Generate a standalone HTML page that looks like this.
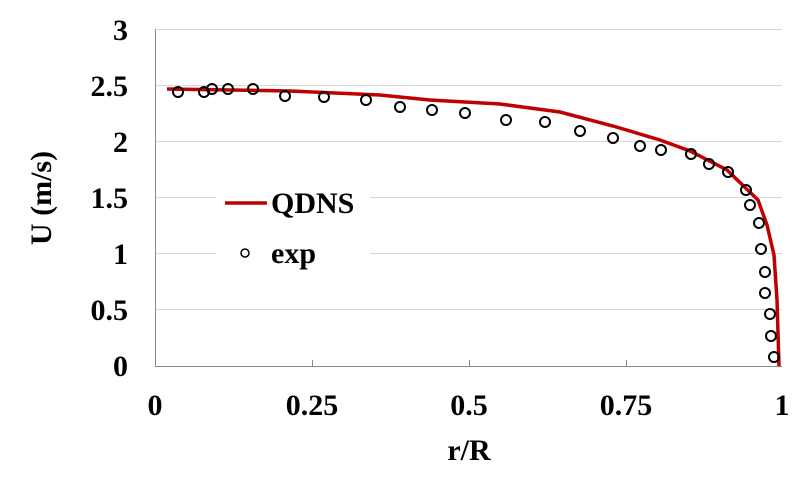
<!DOCTYPE html>
<html><head><style>body{margin:0;background:#fff}svg text{font-family:"Liberation Serif",serif;font-weight:bold;fill:#000}</style></head>
<body>
<svg width="805" height="476" xmlns="http://www.w3.org/2000/svg">
<g stroke="#d9d9d9" stroke-width="1">
<line x1="155" y1="29.5" x2="782" y2="29.5"/><line x1="155" y1="85.5" x2="782" y2="85.5"/><line x1="155" y1="141.5" x2="782" y2="141.5"/><line x1="155" y1="197.5" x2="782" y2="197.5"/><line x1="155" y1="253.5" x2="782" y2="253.5"/><line x1="155" y1="309.5" x2="782" y2="309.5"/>
</g>
<g stroke="#888" stroke-width="1">
<line x1="155.5" y1="29" x2="155.5" y2="366"/><line x1="155" y1="366.5" x2="782" y2="366.5"/>
<line x1="312.5" y1="360" x2="312.5" y2="366"/><line x1="469.5" y1="360" x2="469.5" y2="366"/><line x1="626.5" y1="360" x2="626.5" y2="366"/>
</g>
<rect x="216" y="185" width="154" height="90" fill="#fff"/>
<polyline fill="none" stroke="#c00000" stroke-width="3.5" points="167,89 290,91 380,95 430,100 500,104 560,112 613,126 660,140 690,151 727,170 758,200 767,225 774,255 777,300 779,366"/>
<g fill="none" stroke="#000" stroke-width="2">
<circle cx="178" cy="92" r="5"/><circle cx="204" cy="92" r="5"/><circle cx="212" cy="89" r="5"/><circle cx="228" cy="89" r="5"/><circle cx="253" cy="89" r="5"/><circle cx="285" cy="96" r="5"/><circle cx="324" cy="97" r="5"/><circle cx="366" cy="100" r="5"/><circle cx="400" cy="107" r="5"/><circle cx="432" cy="110" r="5"/><circle cx="465" cy="113" r="5"/><circle cx="506" cy="120" r="5"/><circle cx="545" cy="122" r="5"/><circle cx="580" cy="131" r="5"/><circle cx="613" cy="138" r="5"/><circle cx="640" cy="146" r="5"/><circle cx="661" cy="150" r="5"/><circle cx="691" cy="154" r="5"/><circle cx="709" cy="164" r="5"/><circle cx="728" cy="172" r="5"/><circle cx="746" cy="190" r="5"/><circle cx="750" cy="205" r="5"/><circle cx="759" cy="223" r="5"/><circle cx="761" cy="249" r="5"/><circle cx="765" cy="272" r="5"/><circle cx="765" cy="293" r="5"/><circle cx="770" cy="314" r="5"/><circle cx="771" cy="336" r="5"/><circle cx="774" cy="357" r="5"/>
</g>
<circle cx="245" cy="253" r="4" fill="none" stroke="#000" stroke-width="1.5"/>
<line x1="225" y1="203" x2="267" y2="203" stroke="#c00000" stroke-width="3.5"/>
<text x="271" y="213" font-size="30">QDNS</text>
<text x="271" y="263" font-size="30">exp</text>
<g font-size="30" text-anchor="end">
<text x="128" y="40">3</text><text x="128" y="96">2.5</text><text x="128" y="152">2</text><text x="128" y="208">1.5</text><text x="128" y="264">1</text><text x="128" y="320">0.5</text><text x="128" y="376">0</text>
</g>
<g font-size="30" text-anchor="middle">
<text x="155" y="415">0</text><text x="312" y="415">0.25</text><text x="469" y="415">0.5</text><text x="626" y="415">0.75</text><text x="782" y="415">1</text>
<text x="469" y="460">r/R</text>
</g>
<text transform="translate(51,198) rotate(-90)" font-size="30" text-anchor="middle">U (m/s)</text>
</svg>
</body></html>
